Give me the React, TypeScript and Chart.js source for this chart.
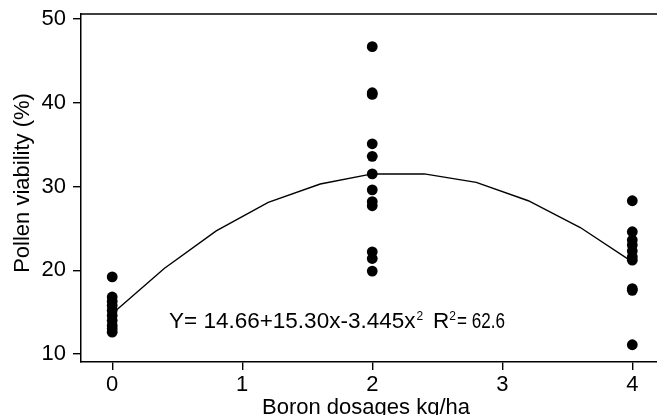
import { useEffect, useRef } from "react";
import { Chart, registerables } from "chart.js";

Chart.register(...registerables);

// ---- data ----
const DOSES = [0, 2, 4];
const VIABILITY_DOSE_0 = [19.2, 16.8, 16.3, 15.8, 15.2, 14.6, 14.0, 13.4, 13.0, 12.6];
const VIABILITY_DOSE_2 = [46.7, 41.2, 41.0, 35.1, 33.6, 31.5, 29.6, 28.2, 27.7, 22.2, 21.4, 19.9];
const VIABILITY_DOSE_4 = [28.3, 24.6, 23.6, 23.0, 22.3, 21.6, 21.2, 17.8, 17.6, 11.1];

const FIT_X = [0, 0.4, 0.8, 1.2, 1.6, 2.0, 2.4, 2.8, 3.2, 3.6, 4.0];
const FIT_Y = [14.8, 20.2, 24.7, 28.1, 30.3, 31.5, 31.5, 30.5, 28.3, 25.1, 21.0];

const X_TICKS = [0, 1, 2, 3, 4];
const Y_TICKS = [10, 20, 30, 40, 50];

const X_TITLE = "Boron dosages kg/ha";
const Y_TITLE = "Pollen viability (%)";
const EQ_MAIN = "Y= 14.66+15.30x-3.445x";
const EQ_R = "R";
const EQ_TAIL = "= 62.6";
const SUP = "2";

const FONT = "'Liberation Sans', Arial, sans-serif";

const decorPlugin = {
  id: "decor",
  afterDraw(chart: any) {
    const { ctx, chartArea } = chart;
    ctx.save();
    // top border
    ctx.strokeStyle = "#000";
    ctx.lineWidth = 1.5;
    ctx.beginPath();
    ctx.moveTo(chartArea.left, chartArea.top);
    ctx.lineTo(chartArea.right, chartArea.top);
    ctx.stroke();

    ctx.fillStyle = "#000";
    // x title
    ctx.font = `22px ${FONT}`;
    ctx.textAlign = "center";
    ctx.textBaseline = "alphabetic";
    ctx.fillText(X_TITLE, 366, 414);
    // y title
    ctx.save();
    ctx.translate(29, 183);
    ctx.rotate(-Math.PI / 2);
    ctx.fillText(Y_TITLE, 0, 0);
    ctx.restore();

    // equation
    ctx.textAlign = "left";
    const base = 328;
    ctx.font = `22.5px ${FONT}`;
    ctx.fillText(EQ_MAIN, 169, base);
    let x = 169 + ctx.measureText(EQ_MAIN).width + 1;
    ctx.font = `12px ${FONT}`;
    ctx.fillText(SUP, x, base - 8);
    ctx.font = `22.5px ${FONT}`;
    ctx.fillText(EQ_R, 433, base);
    x = 433 + ctx.measureText(EQ_R).width;
    ctx.font = `12px ${FONT}`;
    ctx.fillText(SUP, x, base - 8);
    ctx.font = `22.5px ${FONT}`;
    ctx.fillText(EQ_TAIL, 457, base, 48);
    ctx.restore();
  },
};

export default function App() {
  const ref = useRef<HTMLCanvasElement>(null);
  useEffect(() => {
    if (!ref.current) return;
    const groups = [VIABILITY_DOSE_0, VIABILITY_DOSE_2, VIABILITY_DOSE_4];
    const points: { x: number; y: number }[] = [];
    groups.forEach((g, i) => g.forEach((y) => points.push({ x: DOSES[i], y })));
    const fit = FIT_X.map((x, i) => ({ x, y: FIT_Y[i] }));

    const axisCommon = {
      type: "linear" as const,
      grid: {
        display: true,
        drawOnChartArea: false,
        drawTicks: true,
        tickLength: 8,
        color: "#000",
        lineWidth: 1.4,
      },
      border: { display: true, color: "#000", width: 1.5 },
    };
    const zeroPad = (s: any) => {
      s.paddingTop = 0;
      s.paddingBottom = 0;
      s.paddingLeft = 0;
      s.paddingRight = 0;
    };

    const chart = new Chart(ref.current, {
      type: "scatter",
      data: {
        datasets: [
          {
            type: "line",
            data: fit,
            borderColor: "#000",
            borderWidth: 1.4,
            pointRadius: 0,
            fill: false,
            tension: 0,
          } as any,
          {
            data: points,
            backgroundColor: "#000",
            borderColor: "#000",
            pointRadius: 5.4,
            pointBorderWidth: 0,
          },
        ],
      },
      options: {
        responsive: false,
        animation: false,
        devicePixelRatio: 1,
        layout: { autoPadding: false, padding: { top: 14, right: 0, left: 0, bottom: 0 } },
        plugins: { legend: { display: false }, tooltip: { enabled: false } },
        scales: {
          x: {
            ...axisCommon,
            min: -0.24,
            max: 4.19,
            afterBuildTicks: (s: any) => {
              s.ticks = X_TICKS.map((v) => ({ value: v }));
            },
            afterFit: (s: any) => {
              s.height = 53;
              zeroPad(s);
            },
            ticks: {
              color: "#000",
              font: { family: FONT, size: 22 },
              padding: 2,
              maxRotation: 0,
              autoSkip: false,
            },
          },
          y: {
            ...axisCommon,
            min: 9.04,
            max: 50.6,
            afterBuildTicks: (s: any) => {
              s.ticks = Y_TICKS.map((v) => ({ value: v }));
            },
            afterFit: (s: any) => {
              s.width = 81;
              zeroPad(s);
            },
            ticks: {
              color: "#000",
              font: { family: FONT, size: 22 },
              padding: 7,
              autoSkip: false,
            },
          },
        },
      },
      plugins: [decorPlugin],
    });
    return () => chart.destroy();
  }, []);

  return (
    <div style={{ position: "fixed", left: 0, top: 0, width: 657, height: 415, background: "#fff" }}>
      <canvas ref={ref} width={657} height={415} style={{ display: "block" }} />
    </div>
  );
}
